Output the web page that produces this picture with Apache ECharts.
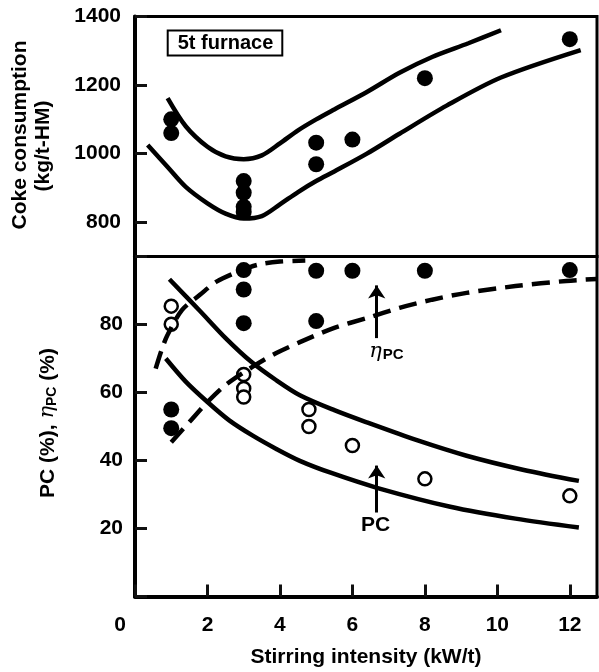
<!DOCTYPE html>
<html>
<head>
<meta charset="utf-8">
<script src="https://cdn.jsdelivr.net/npm/echarts@6/dist/echarts.min.js"></script>
<style>
  html, body { margin: 0; padding: 0; background: #fff; }
  #main { width: 599px; height: 672px; }
</style>
</head>
<body>
<div id="main"></div>
<script>
// top panel: coke consumption (kg/t-HM)
var cokeDotX = [1, 1, 3, 3, 3, 3, 5, 5, 6, 8, 12];
var cokeDotY = [1100, 1060, 920, 886, 845, 830, 1032, 969, 1041, 1220, 1334];

var cokeUpX = [0.9, 1.4, 2.0, 2.5, 3.0, 3.5, 4.0, 4.5, 5.0, 5.5, 6.4, 7.3, 8.2, 9.2, 10.1];
var cokeUpY = [1162, 1080, 1020, 992, 984, 995, 1030, 1068, 1100, 1129, 1180, 1236, 1282, 1322, 1360];
var cokeLowX = [0.35, 0.9, 1.4, 2.0, 2.5, 3.0, 3.5, 4.0, 4.5, 5.0, 5.5, 6.4, 7.3, 8.6, 10.1, 12.3];
var cokeLowY = [1025, 961, 903, 855, 825, 811, 818, 852, 888, 920, 948, 1000, 1058, 1140, 1222, 1302];

// bottom panel: PC (%) open circles, eta PC (%) filled dots
var pcDotX = [1, 1, 3, 3, 3, 4.8, 4.8, 6, 8, 12];
var pcDotY = [85.4, 80.1, 65.3, 61.2, 58.7, 55, 50, 44.4, 34.6, 29.6];
var etaDotX = [1, 1, 3, 3, 3, 5, 5, 6, 8, 12];
var etaDotY = [55, 49.5, 96, 90.3, 80.4, 95.8, 81, 95.8, 95.8, 96];

var pcUpX = [0.95, 1.8, 2.5, 3.2, 3.9, 4.55, 5.5, 6.4, 7.8, 9.15, 10.7, 12.25];
var pcUpY = [93.3, 83.9, 76, 69.1, 63.6, 59.2, 54.8, 51.2, 45.9, 41.4, 37.3, 34];
var pcLowX = [0.85, 1.4, 2.0, 2.6, 3.25, 3.9, 4.55, 5.4, 6.7, 8.7, 10.5, 12.25];
var pcLowY = [70, 63.2, 57.2, 51.8, 47.3, 43.4, 39.9, 36.4, 31.9, 26.4, 22.9, 20.3];

var etaAX = [0.57, 0.75, 0.9, 1.3, 1.8, 2.25, 2.9, 3.4, 4.0, 4.7];
var etaAY = [67, 73, 77, 84.3, 88.8, 92.6, 95.8, 97.6, 98.5, 98.8];
var etaBX = [1.0, 1.5, 2.0, 2.5, 3.25, 3.9, 4.55, 5.5, 6.4, 7.3, 8.2, 9.15, 10.5, 11.9, 12.75];
var etaBY = [45.4, 51.3, 57.2, 62.2, 67.6, 71.6, 74.8, 79, 81.9, 84.9, 87.3, 89.3, 91.3, 92.8, 93.4];

// axis ticks / labels
var xLabels = [0, 2, 4, 6, 8, 10, 12];
var cokeLabels = [800, 1000, 1200, 1400];
var pcLabels = [20, 40, 60, 80];

function pairs(xs, ys) {
  return xs.map(function (x, i) { return [x, ys[i]]; });
}
function onlyIn(list) {
  return function (v) { return list.indexOf(v) >= 0 ? String(v) : ''; };
}

var FONT = "'Liberation Sans', Arial, sans-serif";
var lbl = { color: '#000', fontFamily: FONT, fontWeight: 'bold', fontSize: 21 };
var blackLine = { color: '#000', width: 4.5 };

var myChart = echarts.init(document.getElementById('main'));

var option = {
  animation: false,
  backgroundColor: '#fff',
  grid: [
    { left: 135, right: 2, top: 16.5, height: 240, show: true, backgroundColor: 'transparent', borderColor: '#000', borderWidth: 3, outerBoundsMode: 'none' },
    { left: 135, right: 2, top: 256.5, height: 340, show: true, backgroundColor: 'transparent', borderColor: '#000', borderWidth: 3, outerBoundsMode: 'none' },
    // tick/label helper for the coke axis (800..1400)
    { left: 135, right: 2, top: 16.5, height: 205.5, show: false, outerBoundsMode: 'none' }
  ],
  xAxis: [
    {
      gridIndex: 0, type: 'value', min: 0, max: 12.75,
      axisLine: { show: false }, axisTick: { show: false },
      axisLabel: { show: false }, splitLine: { show: false }
    },
    {
      gridIndex: 1, type: 'value', min: 0, max: 12.75, interval: 2,
      axisLine: { show: true, onZero: false, lineStyle: { color: '#000', width: 4 } },
      // negative length draws the tick into the plot
      axisTick: { show: true, inside: false, length: -12, lineStyle: { color: '#111', width: 3 } },
      axisLabel: Object.assign({}, lbl, {
        margin: 18, showMaxLabel: false,
        formatter: function (v) {
          if (xLabels.indexOf(v) < 0) return '';
          return v === 0 ? '{z|0}' : String(v);
        },
        rich: { z: Object.assign({}, lbl, { padding: [0, 30, 0, 0] }) }
      }),
      splitLine: { show: false },
      name: 'Stirring intensity (kW/t)', nameLocation: 'middle', nameGap: 50,
      nameTextStyle: { color: '#000', fontFamily: FONT, fontWeight: 'bold', fontSize: 21 }
    },
    {
      gridIndex: 2, type: 'value', min: 0, max: 12.75, show: false
    }
  ],
  yAxis: [
    {
      gridIndex: 0, type: 'value', min: 700, max: 1400,
      axisLine: { show: true, lineStyle: { color: '#000', width: 4 } },
      axisTick: { show: false }, axisLabel: { show: false },
      splitLine: { show: false }
    },
    {
      gridIndex: 1, type: 'value', min: 0, max: 100, interval: 20,
      axisLine: { show: true, lineStyle: { color: '#000', width: 4 } },
      axisTick: { show: true, inside: false, length: -12, lineStyle: { color: '#111', width: 3 } },
      axisLabel: Object.assign({}, lbl, { margin: 12, formatter: onlyIn(pcLabels) }),
      splitLine: { show: false }
    },
    {
      gridIndex: 2, type: 'value', min: 800, max: 1400, interval: 200,
      axisLine: { show: false },
      axisTick: { show: true, inside: false, length: -12, lineStyle: { color: '#111', width: 3 } },
      axisLabel: Object.assign({}, lbl, { margin: 14, formatter: onlyIn(cokeLabels) }),
      splitLine: { show: false }
    }
  ],
  graphic: [
    {
      type: 'text', x: 20, y: 135, rotation: Math.PI / 2,
      style: { text: 'Coke consumption', fill: '#000', font: 'bold 21px ' + FONT, align: 'center', verticalAlign: 'middle' }
    },
    {
      type: 'text', x: 43, y: 146, rotation: Math.PI / 2,
      style: { text: '(kg/t-HM)', fill: '#000', font: 'bold 21px ' + FONT, align: 'center', verticalAlign: 'middle' }
    },
    {
      type: 'text', x: 48, y: 423, rotation: Math.PI / 2,
      style: {
        text: '{a|PC (%), }{e|η}{s|PC}{a| (%)}',
        align: 'center', verticalAlign: 'middle',
        rich: {
          a: { fill: '#000', fontFamily: FONT, fontWeight: 'bold', fontSize: 21 },
          e: { fill: '#000', fontFamily: 'DejaVu Serif, serif', fontStyle: 'italic', fontSize: 21 },
          s: { fill: '#000', fontFamily: FONT, fontWeight: 'bold', fontSize: 14, padding: [8, 0, 0, 0] }
        }
      }
    },
    {
      type: 'text', x: 225, y: 43,
      style: {
        text: '5t furnace', fill: '#000', font: 'bold 20px ' + FONT,
        align: 'center', verticalAlign: 'middle',
        borderColor: '#000', borderWidth: 2, padding: [2, 8, 1, 9], backgroundColor: '#fff'
      }
    }
  ],
  series: [
    {
      type: 'line', xAxisIndex: 0, yAxisIndex: 0, data: pairs(cokeUpX, cokeUpY),
      smooth: 0.3, showSymbol: false, lineStyle: blackLine
    },
    {
      type: 'line', xAxisIndex: 0, yAxisIndex: 0, data: pairs(cokeLowX, cokeLowY),
      smooth: 0.3, showSymbol: false, lineStyle: blackLine
    },
    {
      type: 'scatter', xAxisIndex: 0, yAxisIndex: 0, data: pairs(cokeDotX, cokeDotY),
      symbolSize: 16, itemStyle: { color: '#000', opacity: 1 }
    },
    {
      type: 'line', xAxisIndex: 1, yAxisIndex: 1, data: pairs(pcUpX, pcUpY),
      smooth: 0.3, showSymbol: false, lineStyle: blackLine
    },
    {
      type: 'line', xAxisIndex: 1, yAxisIndex: 1, data: pairs(pcLowX, pcLowY),
      smooth: 0.3, showSymbol: false, lineStyle: blackLine,
      markLine: {
        silent: true, symbol: ['none', 'arrow'], symbolSize: 13,
        lineStyle: { color: '#000', width: 3, type: 'solid' },
        label: { show: false },
        data: [
          [{ coord: [6.67, 24.7] }, { coord: [6.67, 38.5] }],
          [{ coord: [6.67, 76] }, { coord: [6.67, 91.5] }]
        ]
      },
      markPoint: {
        silent: true, symbolSize: 1, itemStyle: { color: 'rgba(0,0,0,0)' },
        data: [
          {
            coord: [6.64, 20.7],
            label: { show: true, position: 'inside', formatter: 'PC', color: '#000', fontFamily: FONT, fontWeight: 'bold', fontSize: 21 }
          },
          {
            coord: [6.94, 71.8],
            label: {
              show: true, position: 'inside', formatter: '{e|η}{s|PC}',
              rich: {
                e: { color: '#000', fontFamily: 'DejaVu Serif, serif', fontStyle: 'italic', fontSize: 21 },
                s: { color: '#000', fontFamily: FONT, fontWeight: 'bold', fontSize: 15, padding: [6, 0, 0, 1] }
              }
            }
          }
        ]
      }
    },
    {
      type: 'line', xAxisIndex: 1, yAxisIndex: 1, data: pairs(etaAX, etaAY),
      smooth: 0.3, showSymbol: false,
      lineStyle: { color: '#000', width: 4.5, type: [18, 9] }
    },
    {
      type: 'line', xAxisIndex: 1, yAxisIndex: 1, data: pairs(etaBX, etaBY),
      smooth: 0.3, showSymbol: false,
      lineStyle: { color: '#000', width: 4.5, type: [18, 9] }
    },
    {
      type: 'scatter', xAxisIndex: 1, yAxisIndex: 1, data: pairs(etaDotX, etaDotY),
      symbolSize: 16, itemStyle: { color: '#000', opacity: 1 }
    },
    {
      type: 'scatter', xAxisIndex: 1, yAxisIndex: 1, data: pairs(pcDotX, pcDotY),
      symbolSize: 13, itemStyle: { color: '#fff', borderColor: '#000', borderWidth: 2.5, opacity: 1 }
    }
  ]
};

myChart.setOption(option);
</script>
</body>
</html>
